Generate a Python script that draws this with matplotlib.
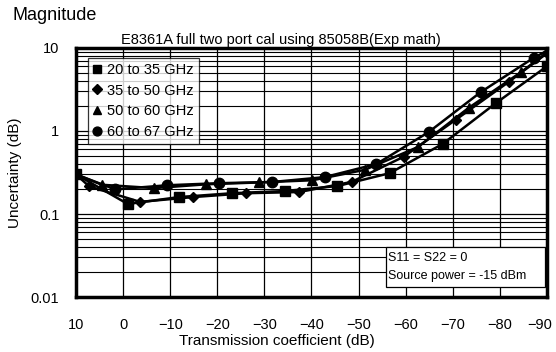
import numpy as np
import matplotlib.pyplot as plt
import matplotlib.transforms as mtransforms
from matplotlib.patches import Rectangle
from matplotlib.ticker import FixedLocator, LogLocator, NullFormatter

plt.rcParams['font.family'] = ['Liberation Sans', 'DejaVu Sans']

# data (transmission coefficient dB, uncertainty dB)
sq_x = [10, -1, -11.9, -23.2, -34.3, -45.5, -56.6, -67.9, -79.1, -90]
sq_y = [0.30, 0.132, 0.16, 0.178, 0.189, 0.217, 0.31, 0.70, 2.15, 6.0]

di_x = [10, 7.2, -3.6, -14.9, -26.2, -37.4, -48.5, -59.6, -70.6, -81.9, -90]
di_y = [0.30, 0.215, 0.14, 0.16, 0.178, 0.184, 0.243, 0.49, 1.36, 3.9, 8.6]

tr_x = [10, 4.5, -6.6, -17.7, -28.9, -40.2, -51.3, -62.6, -73.4, -84.5, -90]
tr_y = [0.30, 0.225, 0.205, 0.228, 0.24, 0.255, 0.34, 0.64, 1.9, 5.1, 8.8]

ci_x = [10, 1.7, -9.4, -20.4, -31.7, -42.8, -53.8, -64.9, -76, -87.2, -90]
ci_y = [0.30, 0.198, 0.222, 0.235, 0.243, 0.278, 0.40, 0.97, 2.95, 7.6, 9.2]

series = [
    ('20 to 35 GHz', 's', sq_x, sq_y, slice(0, None)),
    ('35 to 50 GHz', 'D', di_x, di_y, slice(1, None)),
    ('50 to 60 GHz', '^', tr_x, tr_y, slice(1, -1)),
    ('60 to 67 GHz', 'o', ci_x, ci_y, slice(1, -1)),
]
msize = {'s': 7.5, 'D': 5.5, '^': 7, 'o': 7.5}

fig = plt.figure(figsize=(5.56, 3.52), dpi=100)
ax = fig.add_axes([0.1367, 0.156, 0.847, 0.708])

for label, mk, xs, ys, me in series:
    ax.plot(xs, ys, color='black', lw=1.8, zorder=3)
    n = len(xs)
    idx = list(range(n))[me]
    ax.plot([xs[i] for i in idx], [ys[i] for i in idx], linestyle='none',
            marker=mk, ms=msize[mk], color='black', label=label, zorder=4)

ax.set_yscale('log')
ax.set_xlim(10, -90)
ax.set_ylim(0.01, 10)
ax.xaxis.set_major_locator(FixedLocator(np.arange(10, -91, -10)))
ax.yaxis.set_major_locator(FixedLocator([0.01, 0.1, 1, 10]))
ax.set_yticklabels(['0.01', '0.1', '1', '10'])
ax.yaxis.set_minor_locator(LogLocator(base=10, subs=np.arange(2, 10)))
ax.yaxis.set_minor_formatter(NullFormatter())
ax.grid(True, which='major', color='black', lw=0.9)
ax.grid(True, which='minor', axis='y', color='black', lw=0.8)
ax.tick_params(which='both', length=0, labelsize=10.5)
ax.tick_params(axis='x', pad=15)
ax.tick_params(axis='y', pad=12)
for s in ax.spines.values():
    s.set_linewidth(2.5)

# nudge the last x label so it stays inside the picture
last = ax.get_xticklabels()[-1]
last.set_transform(last.get_transform() + mtransforms.ScaledTranslation(-5 / 72, 0, fig.dpi_scale_trans))

ax.set_xlabel('Transmission coefficient (dB)', fontsize=11)
ax.xaxis.set_label_coords(0.427, -0.147)
ax.set_ylabel('Uncertainty (dB)', fontsize=11, labelpad=6)
ax.set_title('E8361A full two port cal using 85058B(Exp math)', fontsize=10.5, pad=3, x=0.434)
fig.text(0.022, 0.942, 'Magnitude', fontsize=13)

leg = ax.legend(loc='upper left', bbox_to_anchor=(0.025, 0.96), borderaxespad=0, fontsize=10.5,
                frameon=True, fancybox=False, edgecolor='black', handlelength=0.6,
                handletextpad=0.4, borderpad=0.35, labelspacing=0.45, markerscale=0.85)
leg.get_frame().set_linewidth(0.9)
leg.set_zorder(6)

ax.add_patch(Rectangle((0.658, 0.04), 0.338, 0.16, transform=ax.transAxes,
                       facecolor='white', edgecolor='black', lw=0.9, zorder=6))
ax.text(0.663, 0.12, 'S11 = S22 = 0\nSource power = -15 dBm', transform=ax.transAxes,
        fontsize=9, va='center', ha='left', linespacing=1.6, zorder=7)

fig.savefig('out.png', dpi=100)
